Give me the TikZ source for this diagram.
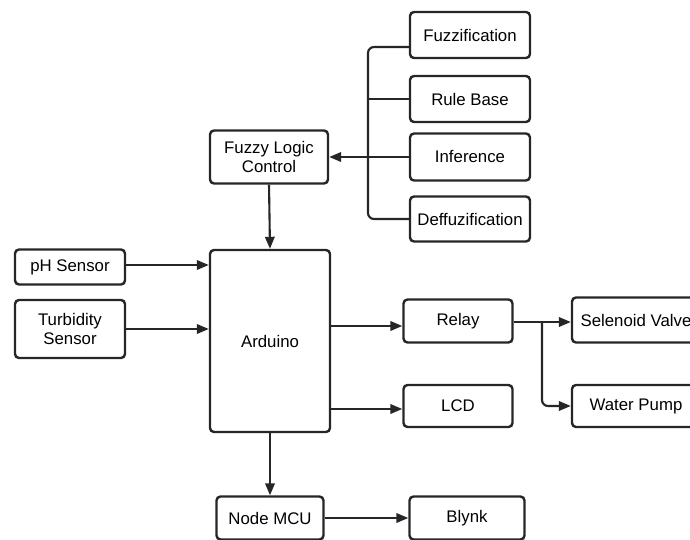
\documentclass[tikz,border=0pt]{standalone}
\usepackage{fontspec}
\setmainfont{Liberation Sans}
\usetikzlibrary{positioning,arrows.meta}

\begin{document}
\begin{tikzpicture}[x=1pt, y=-1pt, line width=2.4pt,
  font=\fontsize{16.8}{19.5}\selectfont,
  blk/.style={draw=black!85, rounded corners=4pt, inner sep=0pt, align=center,
    text=black},
  arr/.style={-{Triangle[length=12pt, width=9.5pt]}, draw=black!85, line width=2.1pt}]

  \useasboundingbox (0,0) rectangle (690,540);

  \def\busX{368}
  \def\splitX{542}

  % fuzzy logic parts
  \node[blk, minimum width=120pt, minimum height=46pt] (fuzz) at (470,35) {Fuzzification};
  \node[blk, minimum width=120pt, minimum height=46pt] (rule) at (470,99) {Rule Base};
  \node[blk, minimum width=120pt, minimum height=47pt] (infer) at (470,157) {Inference};
  \node[blk, minimum width=120pt, minimum height=45pt] (defuzz) at (470,219) {Deffuzification};

  \node[blk, minimum width=118pt, minimum height=53pt] (flc) at (269,157) {Fuzzy Logic\\Control};

  % bus to fuzzy logic control
  \coordinate (busTop) at (\busX,47);
  \coordinate (busMid) at (\busX,157);
  \draw[black!85, line width=2.1pt, rounded corners=6pt] ([yshift=-12pt]fuzz.west) -- (busTop) |- (defuzz.west);
  \draw[black!85, line width=2.1pt] (rule.west) -- (rule.west -| busMid);
  \draw[arr] (infer.west) -- (flc.east);

  % main controller
  \node[blk, minimum width=120pt, minimum height=182pt] (ard) at (270,341) {Arduino};
  \draw[arr] (flc.south) -- (ard.north);

  % sensors
  \node[blk, minimum width=110pt, minimum height=35pt] (ph) at (70,267) {pH Sensor};
  \node[blk, minimum width=110pt, minimum height=58pt] (turb) at (70,329) {Turbidity\\Sensor};
  \draw[arr] ([yshift=2pt]ph.east) -- ([yshift=2pt]ph.east -| ard.west);
  \draw[arr] (turb.east) -- (turb.east -| ard.west);

  % outputs
  \node[blk, minimum width=109pt, minimum height=43pt] (relay) at (458,321) {Relay};
  \node[blk, minimum width=109pt, minimum height=42pt] (lcd) at (458,406) {LCD};
  \draw[arr] ([yshift=-5pt]relay.west -| ard.east) -- ([yshift=-5pt]relay.west);
  \draw[arr] ([yshift=-3pt]lcd.west -| ard.east) -- ([yshift=-3pt]lcd.west);

  \node[blk, minimum width=128pt, minimum height=45pt] (valve) at (636,320) {Selenoid Valve};
  \node[blk, minimum width=128pt, minimum height=42pt] (pump) at (636,406) {Water Pump};
  \coordinate (split) at (\splitX,322);
  \draw[arr] (relay.east |- split) -- (split -| valve.west);
  \draw[arr, rounded corners=6pt] (split) |- (pump.west);

  % wireless
  \node[blk, minimum width=107pt, minimum height=43pt] (mcu) at (270,518) {Node MCU};
  \node[blk, minimum width=115pt, minimum height=43pt] (blynk) at (467,518) {Blynk};
  \draw[arr] (ard.south) -- (mcu.north);
  \draw[arr] (mcu.east) -- (blynk.west);

\end{tikzpicture}
\end{document}
